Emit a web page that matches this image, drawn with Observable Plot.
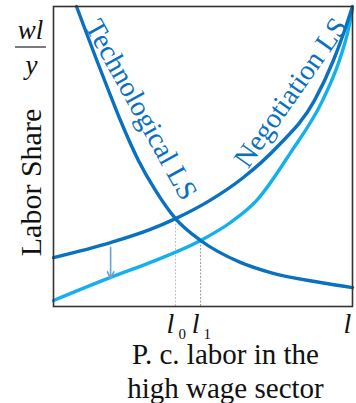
<!DOCTYPE html>
<html><head><meta charset="utf-8">
<script src="https://cdn.jsdelivr.net/npm/d3@7"></script>
<script src="https://cdn.jsdelivr.net/npm/@observablehq/plot@0.6"></script>
<style>
html,body{margin:0;padding:0;background:#fff;}
svg{display:block;}
</style></head><body><div id="chart"></div>
<script>
// Technological labor-share curve (x: labor in high-wage sector, y: labor share), 0-100 units
const techX = [7.7, 10.7, 14.5, 18.4, 22.4, 28.4, 34.1, 40.8, 49.2, 62.5, 72.6, 89.3, 100];
const techY = [100, 92.0, 82.0, 72.0, 62.0, 48.7, 38.7, 29.3, 22.0, 14.7, 11.3, 8.0, 6.3];
// Negotiation labor-share curve (original)
const negX = [0, 19.1, 32.4, 40.8, 52.2, 63.5, 74.6, 87.3, 93.6, 97.0, 100];
const negY = [16.3, 21.3, 25.7, 29.3, 35.3, 43.0, 53.0, 68.7, 82.0, 91.0, 100];
// Negotiation labor-share curve (shifted down)
const neg2X = [0, 19.1, 32.4, 49.2, 59.2, 67.9, 79.3, 90.0, 95.6, 98.7, 100];
const neg2Y = [2.0, 9.7, 14.7, 22.0, 28.0, 35.3, 51.3, 68.7, 82.0, 92.7, 99.3];
// Equilibria l0, l1 and axis end l
const tickX = [40.8, 49.2, 100];
const tickY = [29.3, 22.0, null];
const tickMain = ["l", "l", "l"];
const tickSub = ["0", "1", ""];
// Shift arrow
const arrowX = [19.1];
const arrowY1 = [19.7];
const arrowY2 = [9.3];
// Curve labels
const labelText = ["Technological LS", "Negotiation LS"];
const labelX = [29.3, 79.3];
const labelY = [65.6, 71.3];
const labelAngle = [61, -55];

const dark = "#0a70c0", light = "#12b0ec";
const serif = "'Liberation Serif', 'Times New Roman', serif";

const tech = techX.map((x, i) => ({x, y: techY[i]}));
const neg = negX.map((x, i) => ({x, y: negY[i]}));
const neg2 = neg2X.map((x, i) => ({x, y: neg2Y[i]}));
const guides = tickX.map((x, i) => ({x, y: tickY[i], i})).filter(d => d.y != null);
const ticks = tickX.map((x, i) => ({x, main: tickMain[i], sub: tickSub[i]}));
const arrows = arrowX.map((x, i) => ({x, y1: arrowY1[i], y2: arrowY2[i]}));
const labels = labelText.map((t, i) => ({t, x: labelX[i], y: labelY[i], r: labelAngle[i]}));

const chart = Plot.plot({
  width: 356, height: 403,
  marginLeft: 53, marginRight: 4, marginTop: 6, marginBottom: 97,
  x: {domain: [0, 100], axis: null},
  y: {domain: [0, 100], axis: null},
  style: {fontFamily: serif, background: "#fff", overflow: "visible"},
  marks: [
    Plot.ruleX(guides, {x: "x", y1: 0, y2: "y", stroke: d => d.i === 0 ? "#c4c4c4" : "#9a9a9a", strokeWidth: 1, strokeDasharray: "2,1.5"}),
    Plot.line(neg2, {x: "x", y: "y", stroke: light, strokeWidth: 3.4, curve: "monotone-x"}),
    Plot.line(neg, {x: "x", y: "y", stroke: dark, strokeWidth: 3.4, curve: "monotone-x"}),
    Plot.line(tech, {x: "x", y: "y", stroke: dark, strokeWidth: 3.4, curve: "monotone-x"}),
    Plot.arrow(arrows, {x: "x", y1: "y1", y2: "y2", stroke: "#6aa0da", strokeWidth: 1.6, headLength: 7, headAngle: 50}),
    Plot.text(labels, {x: "x", y: "y", text: "t", rotate: d => d.r, fontSize: 28.5, fill: dark, fontFamily: serif}),
    Plot.frame({stroke: "#333", strokeWidth: 1.6}),
    // x tick labels
    Plot.text(ticks, {x: "x", frameAnchor: "bottom", text: "main", dx: -5, dy: 26, lineAnchor: "bottom", textAnchor: "middle", fontSize: 28, fontStyle: "italic", fill: "#111"}),
    Plot.text(ticks, {x: "x", frameAnchor: "bottom", text: "sub", dx: 3, dy: 32, lineAnchor: "bottom", textAnchor: "start", fontSize: 15, fill: "#111"}),
    // axis titles
    Plot.text(["P. c. labor in the\nhigh wage sector"], {frameAnchor: "top-left", dx: 225 - 53, dy: 333, lineAnchor: "top", textAnchor: "middle", lineHeight: 1.17, fontSize: 29, fill: "#111"}),
    Plot.text(["Labor Share"], {frameAnchor: "top-left", dx: 31 - 53, dy: 182 - 6, rotate: -90, textAnchor: "middle", lineAnchor: "middle", fontSize: 30, fill: "#111"}),
    Plot.text(["wl"], {frameAnchor: "top-left", dx: 30 - 53, dy: 38 - 6, lineAnchor: "bottom", textAnchor: "middle", fontSize: 27, fontStyle: "italic", fill: "#111"}),
    Plot.text(["y"], {frameAnchor: "top-left", dx: 31 - 53, dy: 73 - 6, lineAnchor: "bottom", textAnchor: "middle", fontSize: 27, fontStyle: "italic", fill: "#111"})
  ]
});
// fraction bar of wl / y
d3.select(chart).append("line")
  .attr("x1", 15).attr("x2", 46).attr("y1", 47).attr("y2", 47)
  .attr("stroke", "#333").attr("stroke-width", 1.3);
document.getElementById("chart").appendChild(chart);
</script></body></html>
